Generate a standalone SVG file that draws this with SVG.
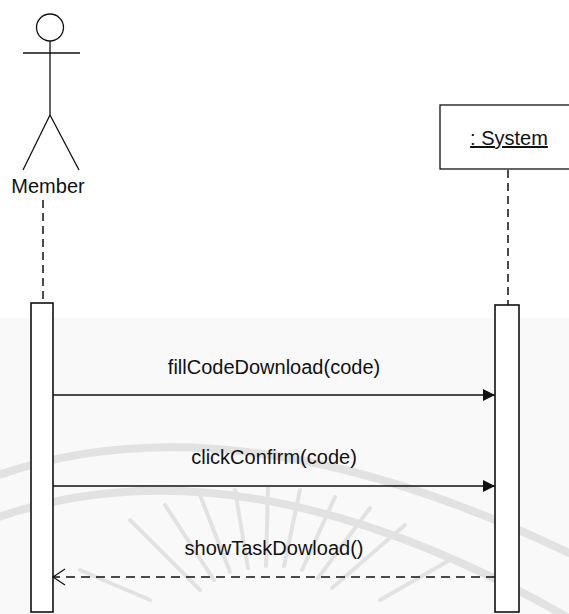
<svg xmlns="http://www.w3.org/2000/svg" width="569" height="614" viewBox="0 0 569 614">
  <defs>
    <marker id="filled" markerWidth="12" markerHeight="12" refX="12" refY="6" orient="auto" markerUnits="userSpaceOnUse">
      <path d="M0,0 L12,6 L0,12 Z" fill="#111"/>
    </marker>
    <marker id="open" markerWidth="14" markerHeight="18" refX="13" refY="9" orient="auto" markerUnits="userSpaceOnUse">
      <path d="M1,1 L13,9 L1,17" fill="none" stroke="#111" stroke-width="1.2"/>
    </marker>
  </defs>
  <style>
    .txt { font-family: "Liberation Sans", Arial, sans-serif; font-size: 20px; fill: #111; }
    .line { stroke: #111; stroke-width: 1.3; fill: none; }
    .bar { stroke: #111; stroke-width: 1.6; fill: #fff; }
    .life { stroke: #111; stroke-width: 1.5; stroke-dasharray: 8 5; fill: none; }
    .ret { stroke: #111; stroke-width: 1.3; stroke-dasharray: 9 6; fill: none; }
    .wm { stroke: #e2e2e2; fill: none; stroke-linecap: round; }
  </style>

  <rect x="0" y="0" width="569" height="614" fill="#ffffff"/>
  <rect x="0" y="318" width="569" height="296" fill="#f9f9f9"/>

  <!-- faint watermark -->
  <g id="watermark">
    <path class="wm" stroke-width="8" d="M -10 478 Q 230 390 569 553"/>
    <path class="wm" stroke-width="8" d="M -10 520 Q 240 430 569 618"/>
    <g stroke-width="4" class="wm">
      <line x1="200" y1="590" x2="130" y2="520"/>
      <line x1="214" y1="580" x2="165" y2="505"/>
      <line x1="230" y1="572" x2="200" y2="495"/>
      <line x1="248" y1="568" x2="235" y2="490"/>
      <line x1="266" y1="566" x2="268" y2="488"/>
      <line x1="284" y1="566" x2="300" y2="490"/>
      <line x1="302" y1="570" x2="335" y2="497"/>
      <line x1="318" y1="578" x2="370" y2="508"/>
      <line x1="332" y1="588" x2="405" y2="525"/>
      <line x1="150" y1="600" x2="80" y2="570"/>
      <line x1="380" y1="600" x2="450" y2="560"/>
    </g>
  </g>

  <g id="member">
    <circle cx="50" cy="27.5" r="13.5" class="line"/>
    <line x1="23" y1="53" x2="80" y2="53" class="line"/>
    <line x1="50" y1="41" x2="50" y2="115" class="line"/>
    <line x1="50" y1="115" x2="23" y2="170" class="line"/>
    <line x1="50" y1="115" x2="79" y2="170" class="line"/>
    <text x="48" y="193" text-anchor="middle" class="txt">Member</text>
  </g>

  <g id="system">
    <rect x="440" y="105" width="140" height="64" class="line" stroke-width="1.5"/>
    <text x="509" y="145" text-anchor="middle" class="txt" text-decoration="underline">: System</text>
  </g>

  <g id="lifelines">
    <line x1="43" y1="200" x2="43" y2="303" class="life"/>
    <line x1="508" y1="170" x2="508" y2="305" class="life"/>
  </g>

  <g id="member-activation">
    <rect x="31" y="303" width="22" height="309" class="bar"/>
  </g>
  <g id="system-activation">
    <rect x="495" y="305" width="24" height="307" class="bar"/>
  </g>

  <g id="connectors">
    <line x1="53" y1="395" x2="495" y2="395" class="line" marker-end="url(#filled)"/>
    <text x="274" y="374" text-anchor="middle" class="txt">fillCodeDownload(code)</text>
    <line x1="53" y1="486" x2="495" y2="486" class="line" marker-end="url(#filled)"/>
    <text x="274" y="464" text-anchor="middle" class="txt">clickConfirm(code)</text>
    <line x1="495" y1="577" x2="53" y2="577" class="ret" marker-end="url(#open)"/>
    <text x="274" y="555" text-anchor="middle" class="txt">showTaskDowload()</text>
  </g>
</svg>
